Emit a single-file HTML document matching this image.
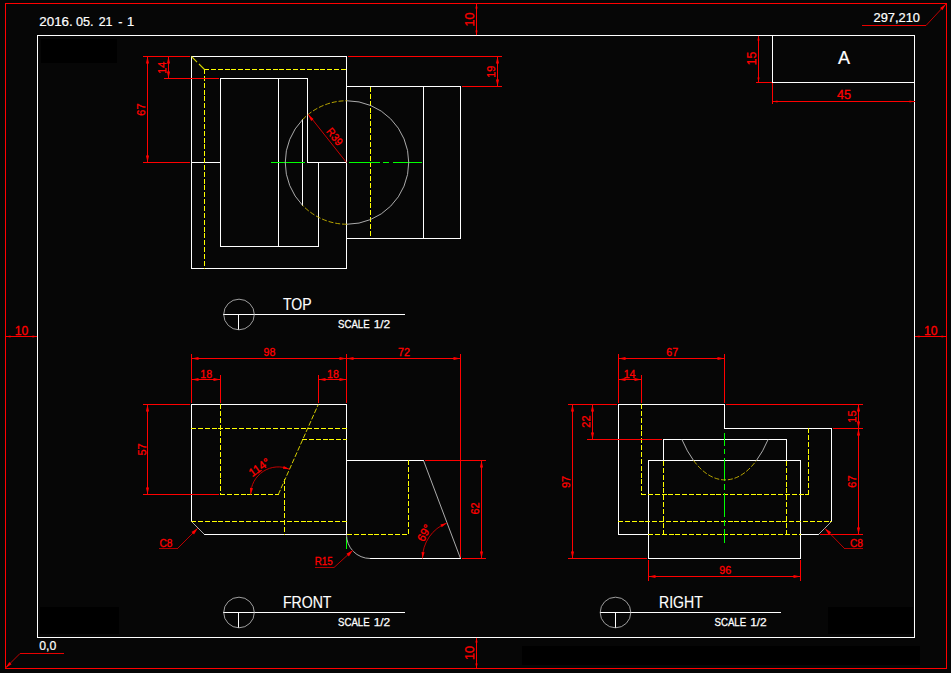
<!DOCTYPE html>
<html><head><meta charset="utf-8"><title>CAD</title>
<style>
html,body{margin:0;padding:0;background:#060606;}
body{width:951px;height:673px;overflow:hidden;font-family:"Liberation Sans",sans-serif;}
svg{display:block;}
.crisp{shape-rendering:crispEdges;}
.aa{shape-rendering:geometricPrecision;}
text{font-family:"Liberation Sans",sans-serif;}
</style></head><body>
<svg width="951" height="673" viewBox="0 0 951 673">
<rect x="0" y="0" width="951" height="673" fill="#060606"/>
<g class="crisp" stroke-width="1" fill="none">
<rect x="5.5" y="3.5" width="941" height="665" stroke="#ff0000"/>
<rect x="37.5" y="35.5" width="877" height="602" stroke="#ffffff"/>
<rect x="41" y="39" width="76" height="24" fill="#000" stroke="none"/>
<rect x="40" y="607" width="79" height="27" fill="#000" stroke="none"/>
<rect x="828" y="607" width="85" height="27" fill="#000" stroke="none"/>
<rect x="522" y="646" width="398" height="19" fill="#000" stroke="none"/>
<rect x="191.5" y="56.5" width="155" height="212" stroke="#ffffff"/>
<line x1="191" y1="162.5" x2="221" y2="162.5" stroke="#ffffff" />
<line x1="307" y1="162.5" x2="347" y2="162.5" stroke="#ffffff" />
<path d="M220.5 78.5H307.5V162.5H318.5V246.5H220.5Z" stroke="#ffffff"/>
<line x1="278.5" y1="78" x2="278.5" y2="247" stroke="#ffffff" />
<line x1="302.5" y1="119" x2="302.5" y2="206" stroke="#ffffff" />
<path d="M346.5 86.5H460.5V238.5H346.5" stroke="#ffffff"/>
<line x1="423.5" y1="86" x2="423.5" y2="239" stroke="#ffffff" />
<line x1="204" y1="69.5" x2="347" y2="69.5" stroke="#ffff00" stroke-dasharray="5 1.85"/>
<line x1="204.5" y1="69" x2="204.5" y2="269" stroke="#ffff00" stroke-dasharray="5 1.85"/>
<line x1="370.5" y1="87" x2="370.5" y2="238" stroke="#ffff00" stroke-dasharray="5 1.85"/>
<line x1="271" y1="162.5" x2="305" y2="162.5" stroke="#00ff00" />
<line x1="349" y1="162.5" x2="380" y2="162.5" stroke="#00ff00" />
<line x1="383" y1="162.5" x2="389" y2="162.5" stroke="#00ff00" />
<line x1="393" y1="162.5" x2="422" y2="162.5" stroke="#00ff00" />
<line x1="143" y1="56.5" x2="190" y2="56.5" stroke="#ff0000" />
<line x1="143" y1="162.5" x2="190" y2="162.5" stroke="#ff0000" />
<line x1="147.5" y1="56" x2="147.5" y2="163" stroke="#ff0000" />
<line x1="164" y1="78.5" x2="219" y2="78.5" stroke="#ff0000" />
<line x1="168.5" y1="56" x2="168.5" y2="79" stroke="#ff0000" />
<line x1="348" y1="56.5" x2="502" y2="56.5" stroke="#ff0000" />
<line x1="462" y1="86.5" x2="502" y2="86.5" stroke="#ff0000" />
<line x1="497.5" y1="56" x2="497.5" y2="87" stroke="#ff0000" />
<line x1="772.5" y1="35" x2="772.5" y2="83" stroke="#ffffff" />
<line x1="772" y1="82.5" x2="915" y2="82.5" stroke="#ffffff" />
<line x1="758.5" y1="36" x2="758.5" y2="83" stroke="#ff0000" />
<line x1="756" y1="82.5" x2="772" y2="82.5" stroke="#ff0000" />
<line x1="772" y1="101.5" x2="915" y2="101.5" stroke="#ff0000" />
<line x1="772.5" y1="83" x2="772.5" y2="104" stroke="#ff0000" />
<line x1="476.5" y1="3" x2="476.5" y2="35" stroke="#ff0000" />
<line x1="476.5" y1="638" x2="476.5" y2="669" stroke="#ff0000" />
<line x1="5" y1="336.5" x2="37" y2="336.5" stroke="#ff0000" />
<line x1="915" y1="336.5" x2="947" y2="336.5" stroke="#ff0000" />
<line x1="862" y1="25.5" x2="926" y2="25.5" stroke="#e80000" />
<line x1="20" y1="653.5" x2="64" y2="653.5" stroke="#e80000" />
<line x1="223" y1="314.5" x2="405" y2="314.5" stroke="#ffffff" />
<line x1="238.5" y1="314" x2="238.5" y2="330" stroke="#ffffff" />
<line x1="223" y1="612.5" x2="405" y2="612.5" stroke="#ffffff" />
<line x1="238.5" y1="612" x2="238.5" y2="628" stroke="#ffffff" />
<line x1="600" y1="612.5" x2="781" y2="612.5" stroke="#ffffff" />
<line x1="615.5" y1="612" x2="615.5" y2="628" stroke="#ffffff" />
<path d="M346.5 404.5H191.5V521.5" stroke="#ffffff"/>
<line x1="204" y1="534.5" x2="347" y2="534.5" stroke="#ffffff" />
<line x1="346.5" y1="404" x2="346.5" y2="535" stroke="#ffffff" />
<line x1="346" y1="460.5" x2="424" y2="460.5" stroke="#ffffff" />
<line x1="370" y1="558.5" x2="461" y2="558.5" stroke="#ffffff" />
<line x1="191" y1="428.5" x2="347" y2="428.5" stroke="#ffff00" stroke-dasharray="5 1.85"/>
<line x1="302" y1="439.5" x2="347" y2="439.5" stroke="#ffff00" stroke-dasharray="5 1.85"/>
<line x1="220.5" y1="404" x2="220.5" y2="495" stroke="#ffff00" stroke-dasharray="5 1.85"/>
<line x1="220" y1="494.5" x2="278.5" y2="494.5" stroke="#ffff00" stroke-dasharray="5 1.85"/>
<line x1="284.5" y1="479" x2="284.5" y2="535" stroke="#ffff00" stroke-dasharray="5 1.85"/>
<line x1="191" y1="521.5" x2="347" y2="521.5" stroke="#ffff00" stroke-dasharray="5 1.85"/>
<line x1="347" y1="534.5" x2="409" y2="534.5" stroke="#ffff00" stroke-dasharray="5 1.85"/>
<line x1="408.5" y1="460" x2="408.5" y2="535" stroke="#ffff00" stroke-dasharray="5 1.85"/>
<line x1="346.5" y1="537" x2="346.5" y2="549" stroke="#00ff00" />
<line x1="191.5" y1="354" x2="191.5" y2="403" stroke="#ff0000" />
<line x1="346.5" y1="354" x2="346.5" y2="403" stroke="#ff0000" />
<line x1="191" y1="358.5" x2="461" y2="358.5" stroke="#ff0000" />
<line x1="460.5" y1="354" x2="460.5" y2="558" stroke="#ff0000" />
<line x1="220.5" y1="375" x2="220.5" y2="403" stroke="#ff0000" />
<line x1="318.5" y1="375" x2="318.5" y2="403" stroke="#ff0000" />
<line x1="191" y1="379.5" x2="221" y2="379.5" stroke="#ff0000" />
<line x1="318" y1="379.5" x2="347" y2="379.5" stroke="#ff0000" />
<line x1="143" y1="404.5" x2="190" y2="404.5" stroke="#ff0000" />
<line x1="143" y1="494.5" x2="219" y2="494.5" stroke="#ff0000" />
<line x1="147.5" y1="404" x2="147.5" y2="495" stroke="#ff0000" />
<line x1="425" y1="460.5" x2="486" y2="460.5" stroke="#ff0000" />
<line x1="462" y1="558.5" x2="486" y2="558.5" stroke="#ff0000" />
<line x1="481.5" y1="460" x2="481.5" y2="559" stroke="#ff0000" />
<line x1="159" y1="548.5" x2="178" y2="548.5" stroke="#b00000" />
<line x1="315" y1="567.5" x2="334" y2="567.5" stroke="#b00000" />
<path d="M648.5 534.5H618.5V404.5H724.5V428.5H831.5V521.5" stroke="#ffffff"/>
<line x1="800" y1="534.5" x2="819" y2="534.5" stroke="#ffffff" />
<path d="M663.5 460.5V439.5H786.5V460.5" stroke="#ffffff"/>
<rect x="648.5" y="460.5" width="152" height="98" stroke="#ffffff"/>
<line x1="641.5" y1="404" x2="641.5" y2="495" stroke="#ffff00" stroke-dasharray="5 1.85"/>
<line x1="641" y1="494.5" x2="809" y2="494.5" stroke="#ffff00" stroke-dasharray="5 1.85"/>
<line x1="808.5" y1="428" x2="808.5" y2="495" stroke="#ffff00" stroke-dasharray="5 1.85"/>
<line x1="663.5" y1="461" x2="663.5" y2="535" stroke="#ffff00" stroke-dasharray="5 1.85"/>
<line x1="786.5" y1="461" x2="786.5" y2="535" stroke="#ffff00" stroke-dasharray="5 1.85"/>
<line x1="618" y1="521.5" x2="832" y2="521.5" stroke="#ffff00" stroke-dasharray="5 1.85"/>
<line x1="648" y1="534.5" x2="801" y2="534.5" stroke="#ffff00" stroke-dasharray="5 1.85"/>
<line x1="724.5" y1="433" x2="724.5" y2="543" stroke="#00ff00" stroke-dasharray="23.5 3.3 5.5 3.3" stroke-dashoffset="11"/>
<line x1="618.5" y1="354" x2="618.5" y2="403" stroke="#ff0000" />
<line x1="724.5" y1="354" x2="724.5" y2="403" stroke="#ff0000" />
<line x1="618" y1="358.5" x2="725" y2="358.5" stroke="#ff0000" />
<line x1="641.5" y1="375" x2="641.5" y2="403" stroke="#ff0000" />
<line x1="618" y1="379.5" x2="642" y2="379.5" stroke="#ff0000" />
<line x1="568" y1="404.5" x2="617" y2="404.5" stroke="#ff0000" />
<line x1="726" y1="404.5" x2="863" y2="404.5" stroke="#ff0000" />
<line x1="592.5" y1="404" x2="592.5" y2="440" stroke="#ff0000" />
<line x1="587" y1="439.5" x2="662" y2="439.5" stroke="#ff0000" />
<line x1="572.5" y1="404" x2="572.5" y2="559" stroke="#ff0000" />
<line x1="568" y1="558.5" x2="647" y2="558.5" stroke="#ff0000" />
<line x1="858.5" y1="404" x2="858.5" y2="535" stroke="#ff0000" />
<line x1="833" y1="428.5" x2="863" y2="428.5" stroke="#ff0000" />
<line x1="820" y1="534.5" x2="863" y2="534.5" stroke="#ff0000" />
<line x1="844" y1="548.5" x2="863" y2="548.5" stroke="#b00000" />
<line x1="648.5" y1="560" x2="648.5" y2="581" stroke="#ff0000" />
<line x1="800.5" y1="560" x2="800.5" y2="581" stroke="#ff0000" />
<line x1="648" y1="576.5" x2="801" y2="576.5" stroke="#ff0000" />
</g>
<g class="aa" fill="none" stroke-width="0.9">
<path d="M347.00 100.75A61.75 61.75 0 0 1 347.00 224.25" stroke="#bdbdbd" stroke-width="0.9" />
<path d="M302.50 205.31A61.75 61.75 0 0 1 302.50 119.69" stroke="#bdbdbd" stroke-width="0.9" />
<path d="M302.50 119.69A61.75 61.75 0 0 1 347.00 100.75" stroke="#c8b400" stroke-width="0.9" stroke-dasharray="5 1.85"/>
<path d="M347.00 224.25A61.75 61.75 0 0 1 302.50 205.31" stroke="#c8b400" stroke-width="0.9" stroke-dasharray="5 1.85"/>
<line x1="191.5" y1="56.5" x2="204.5" y2="69.5" stroke="#d0d000" stroke-width="1.1" stroke-dasharray="7.8 2.8"/>
<line x1="346.5" y1="162.5" x2="308.3" y2="114.3" stroke="#e00000" stroke-width="0.9"/>
<circle cx="239" cy="314.5" r="15.3" stroke="#b8b8b8" stroke-width="0.85"/>
<circle cx="239" cy="612.5" r="15.3" stroke="#b8b8b8" stroke-width="0.85"/>
<circle cx="615.5" cy="612.5" r="15.3" stroke="#b8b8b8" stroke-width="0.85"/>
<line x1="191.5" y1="521.5" x2="204.5" y2="534.5" stroke="#bdbdbd" />
<line x1="423.5" y1="460.5" x2="460.5" y2="558.5" stroke="#bdbdbd" />
<path d="M346.5 534.5A23.7 23.7 0 0 0 370.2 558.5" stroke="#bdbdbd"/>
<line x1="278.3" y1="494.5" x2="318.3" y2="404.5" stroke="#d4cc00" stroke-width="1" stroke-dasharray="5 1.85"/>
<line x1="831.5" y1="521.5" x2="818.5" y2="534.5" stroke="#bdbdbd" />
<path d="M681.91 439.5A57.1 117.5 0 0 0 693.57 460.5" stroke="#bdbdbd"/>
<path d="M768.09 439.5A57.1 117.5 0 0 1 756.43 460.5" stroke="#bdbdbd"/>
<path d="M693.57 460.5A57.1 117.5 0 0 0 756.43 460.5" stroke="#c8b400" stroke-dasharray="5 1.85"/>
<path d="M250.70 494.50A27.6 27.6 0 0 1 289.53 469.29" stroke="#d00000" stroke-width="0.9" />
<path d="M422.50 558.50A38 38 0 0 1 446.88 523.02" stroke="#d00000" stroke-width="0.9" />
<line x1="197.7" y1="528.3" x2="177.5" y2="548.5" stroke="#d00000" />
<line x1="352.8" y1="550.3" x2="334" y2="567.5" stroke="#d00000" />
<line x1="825" y1="528.5" x2="844.5" y2="548.5" stroke="#d00000" />
<line x1="926" y1="25.5" x2="946" y2="4" stroke="#d00000" />
<line x1="20" y1="653.5" x2="5.5" y2="668" stroke="#d00000" />
</g>
<polygon points="147.50,56.50 149.05,63.50 145.95,63.50" fill="#ff0000" class="aa"/>
<polygon points="147.50,162.50 145.95,155.50 149.05,155.50" fill="#ff0000" class="aa"/>
<polygon points="168.50,56.50 170.05,63.50 166.95,63.50" fill="#ff0000" class="aa"/>
<polygon points="168.50,78.50 166.95,71.50 170.05,71.50" fill="#ff0000" class="aa"/>
<polygon points="497.50,56.50 499.05,63.50 495.95,63.50" fill="#ff0000" class="aa"/>
<polygon points="497.50,86.50 495.95,79.50 499.05,79.50" fill="#ff0000" class="aa"/>
<polygon points="147.50,404.50 149.05,411.50 145.95,411.50" fill="#ff0000" class="aa"/>
<polygon points="147.50,494.50 145.95,487.50 149.05,487.50" fill="#ff0000" class="aa"/>
<polygon points="481.50,460.50 483.05,467.50 479.95,467.50" fill="#ff0000" class="aa"/>
<polygon points="481.50,558.50 479.95,551.50 483.05,551.50" fill="#ff0000" class="aa"/>
<polygon points="592.50,404.50 594.05,411.50 590.95,411.50" fill="#ff0000" class="aa"/>
<polygon points="592.50,439.50 590.95,432.50 594.05,432.50" fill="#ff0000" class="aa"/>
<polygon points="572.50,404.50 574.05,411.50 570.95,411.50" fill="#ff0000" class="aa"/>
<polygon points="572.50,558.50 570.95,551.50 574.05,551.50" fill="#ff0000" class="aa"/>
<polygon points="858.50,404.50 860.05,411.50 856.95,411.50" fill="#ff0000" class="aa"/>
<polygon points="858.50,428.50 856.95,421.50 860.05,421.50" fill="#ff0000" class="aa"/>
<polygon points="858.50,428.50 860.05,435.50 856.95,435.50" fill="#ff0000" class="aa"/>
<polygon points="858.50,534.50 856.95,527.50 860.05,527.50" fill="#ff0000" class="aa"/>
<polygon points="758.50,35.50 759.60,40.50 757.40,40.50" fill="#ff0000" class="aa"/>
<polygon points="758.50,82.50 757.40,77.50 759.60,77.50" fill="#ff0000" class="aa"/>
<polygon points="476.50,3.50 477.60,8.50 475.40,8.50" fill="#ff0000" class="aa"/>
<polygon points="476.50,35.50 475.40,30.50 477.60,30.50" fill="#ff0000" class="aa"/>
<polygon points="476.50,637.50 477.60,642.50 475.40,642.50" fill="#ff0000" class="aa"/>
<polygon points="476.50,668.50 475.40,663.50 477.60,663.50" fill="#ff0000" class="aa"/>
<polygon points="191.50,358.50 198.50,356.95 198.50,360.05" fill="#ff0000" class="aa"/>
<polygon points="346.50,358.50 339.50,360.05 339.50,356.95" fill="#ff0000" class="aa"/>
<polygon points="346.50,358.50 353.50,356.95 353.50,360.05" fill="#ff0000" class="aa"/>
<polygon points="460.50,358.50 453.50,360.05 453.50,356.95" fill="#ff0000" class="aa"/>
<polygon points="191.50,379.50 198.50,377.95 198.50,381.05" fill="#ff0000" class="aa"/>
<polygon points="220.50,379.50 213.50,381.05 213.50,377.95" fill="#ff0000" class="aa"/>
<polygon points="318.50,379.50 325.50,377.95 325.50,381.05" fill="#ff0000" class="aa"/>
<polygon points="346.50,379.50 339.50,381.05 339.50,377.95" fill="#ff0000" class="aa"/>
<polygon points="618.50,358.50 625.50,356.95 625.50,360.05" fill="#ff0000" class="aa"/>
<polygon points="724.50,358.50 717.50,360.05 717.50,356.95" fill="#ff0000" class="aa"/>
<polygon points="618.50,379.50 625.50,377.95 625.50,381.05" fill="#ff0000" class="aa"/>
<polygon points="641.50,379.50 634.50,381.05 634.50,377.95" fill="#ff0000" class="aa"/>
<polygon points="648.50,576.50 655.50,574.95 655.50,578.05" fill="#ff0000" class="aa"/>
<polygon points="800.50,576.50 793.50,578.05 793.50,574.95" fill="#ff0000" class="aa"/>
<polygon points="772.50,101.50 777.50,100.40 777.50,102.60" fill="#ff0000" class="aa"/>
<polygon points="914.50,101.50 909.50,102.60 909.50,100.40" fill="#ff0000" class="aa"/>
<polygon points="5.50,336.50 10.50,335.40 10.50,337.60" fill="#ff0000" class="aa"/>
<polygon points="37.50,336.50 32.50,337.60 32.50,335.40" fill="#ff0000" class="aa"/>
<polygon points="914.50,336.50 919.50,335.40 919.50,337.60" fill="#ff0000" class="aa"/>
<polygon points="946.50,336.50 941.50,337.60 941.50,335.40" fill="#ff0000" class="aa"/>
<polygon points="308.00,114.50 313.59,118.99 311.17,120.93" fill="#ff0000" class="aa"/>
<polygon points="197.70,528.30 194.02,534.52 191.48,531.98" fill="#ff0000" class="aa"/>
<polygon points="352.80,550.30 348.91,556.39 346.45,553.76" fill="#ff0000" class="aa"/>
<polygon points="825.00,528.50 831.22,532.18 828.68,534.72" fill="#ff0000" class="aa"/>
<polygon points="946.00,4.00 942.36,10.18 940.09,8.06" fill="#ff0000" class="aa"/>
<polygon points="5.50,668.00 9.35,661.95 11.55,664.15" fill="#ff0000" class="aa"/>
<polygon points="250.70,494.50 249.92,487.86 253.00,488.23" fill="#ff0000" class="aa"/>
<polygon points="289.53,469.29 282.86,468.84 283.78,465.88" fill="#ff0000" class="aa"/>
<polygon points="422.50,558.50 421.51,551.89 424.60,552.16" fill="#ff0000" class="aa"/>
<polygon points="446.88,523.02 441.71,527.26 440.36,524.47" fill="#ff0000" class="aa"/>
<g font-family="'Liberation Sans', sans-serif">
<text x="39.3" y="26" font-size="13" fill="#ffffff" text-anchor="start" textLength="33.5" lengthAdjust="spacingAndGlyphs" stroke="#ffffff" stroke-width="0.22">2016.</text>
<text x="75.9" y="26" font-size="13" fill="#ffffff" text-anchor="start" textLength="17.6" lengthAdjust="spacingAndGlyphs" stroke="#ffffff" stroke-width="0.22">05.</text>
<text x="98.7" y="26" font-size="13" fill="#ffffff" text-anchor="start" textLength="13.8" lengthAdjust="spacingAndGlyphs" stroke="#ffffff" stroke-width="0.22">21</text>
<text x="118.3" y="26" font-size="13" fill="#ffffff" text-anchor="start" textLength="4.2" lengthAdjust="spacingAndGlyphs" stroke="#ffffff" stroke-width="0.22">-</text>
<text x="127.0" y="26" font-size="13" fill="#ffffff" text-anchor="start" textLength="7.2" lengthAdjust="spacingAndGlyphs" stroke="#ffffff" stroke-width="0.22">1</text>
<text x="873.5" y="21.75" font-size="12.7" fill="#ffffff" text-anchor="start" textLength="46.5" lengthAdjust="spacingAndGlyphs" stroke="#ffffff" stroke-width="0.22">297,210</text>
<text x="39.25" y="650" font-size="12.7" fill="#ffffff" text-anchor="start" textLength="17" lengthAdjust="spacingAndGlyphs" stroke="#ffffff" stroke-width="0.22">0,0</text>
<text x="844" y="63.75" font-size="18" fill="#ffffff" text-anchor="middle" stroke="#ffffff" stroke-width="0.2">A</text>
<text x="283.0" y="310" font-size="15.9" fill="#ffffff" text-anchor="start" textLength="28.6" lengthAdjust="spacingAndGlyphs" stroke="#ffffff" stroke-width="0.15">TOP</text>
<text x="282.9" y="608" font-size="15.9" fill="#ffffff" text-anchor="start" textLength="48.6" lengthAdjust="spacingAndGlyphs" stroke="#ffffff" stroke-width="0.15">FRONT</text>
<text x="659.0" y="608" font-size="15.9" fill="#ffffff" text-anchor="start" textLength="43.8" lengthAdjust="spacingAndGlyphs" stroke="#ffffff" stroke-width="0.15">RIGHT</text>
<text x="338.05" y="328" font-size="11.6" fill="#ffffff" text-anchor="start" textLength="31.6" lengthAdjust="spacingAndGlyphs" stroke="#ffffff" stroke-width="0.3">SCALE</text>
<text x="373.65" y="328" font-size="11.6" fill="#ffffff" text-anchor="start" textLength="16.6" lengthAdjust="spacingAndGlyphs" stroke="#ffffff" stroke-width="0.25">1/2</text>
<text x="338.05" y="626.25" font-size="11.6" fill="#ffffff" text-anchor="start" textLength="31.6" lengthAdjust="spacingAndGlyphs" stroke="#ffffff" stroke-width="0.3">SCALE</text>
<text x="373.65" y="626.25" font-size="11.6" fill="#ffffff" text-anchor="start" textLength="16.6" lengthAdjust="spacingAndGlyphs" stroke="#ffffff" stroke-width="0.25">1/2</text>
<text x="714.55" y="626.25" font-size="11.6" fill="#ffffff" text-anchor="start" textLength="31.6" lengthAdjust="spacingAndGlyphs" stroke="#ffffff" stroke-width="0.3">SCALE</text>
<text x="750.15" y="626.25" font-size="11.6" fill="#ffffff" text-anchor="start" textLength="16.6" lengthAdjust="spacingAndGlyphs" stroke="#ffffff" stroke-width="0.25">1/2</text>
<text x="263.6" y="355.7" font-size="11.5" fill="#ff0000" text-anchor="start" textLength="11.8" lengthAdjust="spacingAndGlyphs" stroke="#ff0000" stroke-width="0.3">98</text>
<text x="398" y="355.7" font-size="11.5" fill="#ff0000" text-anchor="start" textLength="12" lengthAdjust="spacingAndGlyphs" stroke="#ff0000" stroke-width="0.3">72</text>
<text x="200.3" y="377.7" font-size="11.5" fill="#ff0000" text-anchor="start" textLength="11.8" lengthAdjust="spacingAndGlyphs" stroke="#ff0000" stroke-width="0.3">18</text>
<text x="327" y="377.7" font-size="11.5" fill="#ff0000" text-anchor="start" textLength="11.8" lengthAdjust="spacingAndGlyphs" stroke="#ff0000" stroke-width="0.3">18</text>
<text x="666.25" y="355.6" font-size="11.5" fill="#ff0000" text-anchor="start" textLength="11.8" lengthAdjust="spacingAndGlyphs" stroke="#ff0000" stroke-width="0.3">67</text>
<text x="623.7" y="377.6" font-size="11.5" fill="#ff0000" text-anchor="start" textLength="11.8" lengthAdjust="spacingAndGlyphs" stroke="#ff0000" stroke-width="0.3">14</text>
<text x="719.25" y="573.9" font-size="11.5" fill="#ff0000" text-anchor="start" textLength="12" lengthAdjust="spacingAndGlyphs" stroke="#ff0000" stroke-width="0.3">96</text>
<text x="159.5" y="546.75" font-size="11.5" fill="#ff0000" text-anchor="start" textLength="13" lengthAdjust="spacingAndGlyphs" stroke="#ff0000" stroke-width="0.3">C8</text>
<text x="314.7" y="564.5" font-size="11.5" fill="#ff0000" text-anchor="start" textLength="18" lengthAdjust="spacingAndGlyphs" stroke="#ff0000" stroke-width="0.3">R15</text>
<text x="850" y="546.75" font-size="11.5" fill="#ff0000" text-anchor="start" textLength="13" lengthAdjust="spacingAndGlyphs" stroke="#ff0000" stroke-width="0.3">C8</text>
<text x="837.1" y="99.3" font-size="12.2" fill="#ff0000" text-anchor="start" textLength="14" lengthAdjust="spacingAndGlyphs" stroke="#ff0000" stroke-width="0.3">45</text>
<text x="14.8" y="334.7" font-size="12.5" fill="#ff0000" text-anchor="start" textLength="13.5" lengthAdjust="spacingAndGlyphs" stroke="#ff0000" stroke-width="0.3">10</text>
<text x="924" y="334.7" font-size="12.5" fill="#ff0000" text-anchor="start" textLength="13.5" lengthAdjust="spacingAndGlyphs" stroke="#ff0000" stroke-width="0.3">10</text>
<text x="145.26" y="109.60" font-size="11.5" fill="#ff0000" text-anchor="middle" transform="rotate(-90 145.26 109.60)" textLength="12.2" lengthAdjust="spacingAndGlyphs" stroke="#ff0000" stroke-width="0.3">67</text>
<text x="166.26" y="67.75" font-size="11.5" fill="#ff0000" text-anchor="middle" transform="rotate(-90 166.26 67.75)" textLength="12.2" lengthAdjust="spacingAndGlyphs" stroke="#ff0000" stroke-width="0.3">14</text>
<text x="494.76" y="71.70" font-size="11.5" fill="#ff0000" text-anchor="middle" transform="rotate(-90 494.76 71.70)" textLength="12.2" lengthAdjust="spacingAndGlyphs" stroke="#ff0000" stroke-width="0.3">19</text>
<text x="756.00" y="58.40" font-size="12.5" fill="#ff0000" text-anchor="middle" transform="rotate(-90 756.00 58.40)" textLength="13.6" lengthAdjust="spacingAndGlyphs" stroke="#ff0000" stroke-width="0.3">15</text>
<text x="145.76" y="449.50" font-size="11.5" fill="#ff0000" text-anchor="middle" transform="rotate(-90 145.76 449.50)" textLength="12.2" lengthAdjust="spacingAndGlyphs" stroke="#ff0000" stroke-width="0.3">57</text>
<text x="478.96" y="508.50" font-size="11.5" fill="#ff0000" text-anchor="middle" transform="rotate(-90 478.96 508.50)" textLength="12.2" lengthAdjust="spacingAndGlyphs" stroke="#ff0000" stroke-width="0.3">62</text>
<text x="590.01" y="421.60" font-size="11.5" fill="#ff0000" text-anchor="middle" transform="rotate(-90 590.01 421.60)" textLength="12.2" lengthAdjust="spacingAndGlyphs" stroke="#ff0000" stroke-width="0.3">22</text>
<text x="570.01" y="482.00" font-size="11.5" fill="#ff0000" text-anchor="middle" transform="rotate(-90 570.01 482.00)" textLength="12.2" lengthAdjust="spacingAndGlyphs" stroke="#ff0000" stroke-width="0.3">97</text>
<text x="856.26" y="416.60" font-size="11.5" fill="#ff0000" text-anchor="middle" transform="rotate(-90 856.26 416.60)" textLength="12.2" lengthAdjust="spacingAndGlyphs" stroke="#ff0000" stroke-width="0.3">15</text>
<text x="856.26" y="481.60" font-size="11.5" fill="#ff0000" text-anchor="middle" transform="rotate(-90 856.26 481.60)" textLength="12.2" lengthAdjust="spacingAndGlyphs" stroke="#ff0000" stroke-width="0.3">67</text>
<text x="473.77" y="19.60" font-size="13" fill="#ff0000" text-anchor="middle" transform="rotate(-90 473.77 19.60)" textLength="14" lengthAdjust="spacingAndGlyphs" stroke="#ff0000" stroke-width="0.3">10</text>
<text x="473.77" y="653.00" font-size="13" fill="#ff0000" text-anchor="middle" transform="rotate(-90 473.77 653.00)" textLength="14" lengthAdjust="spacingAndGlyphs" stroke="#ff0000" stroke-width="0.3">10</text>
<text x="331.65" y="138.97" font-size="11" fill="#ff0000" text-anchor="middle" transform="rotate(51.3 331.65 138.97)" stroke="#ff0000" stroke-width="0.3" textLength="19" lengthAdjust="spacingAndGlyphs">R39</text>
<text x="261.63" y="470.60" font-size="11.5" fill="#ff0000" text-anchor="middle" transform="rotate(-36 261.63 470.60)" stroke="#ff0000" stroke-width="0.3">114°</text>
<text x="427.73" y="534.88" font-size="11.5" fill="#ff0000" text-anchor="middle" transform="rotate(-60 427.73 534.88)" stroke="#ff0000" stroke-width="0.3">69°</text>
</g>
</svg>
</body></html>
